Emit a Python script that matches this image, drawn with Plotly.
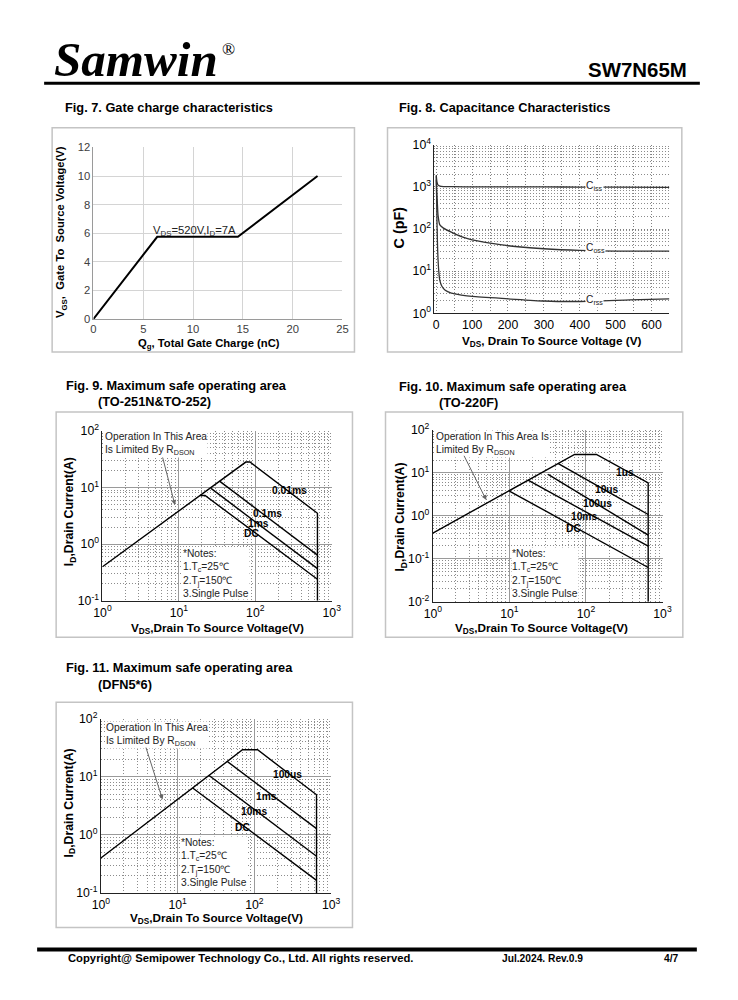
import plotly.graph_objects as go

# Figure size and the measured page placement of the rendered figure
W, H = 722, 984
AX, SX = 17.9, 0.974
AY, SY = 17.3, 0.983
FS = 1 / 0.978  # font compensation for the rendering scale
def px(x): return (x - AX) / SX / W
def py(y): return 1 - (y - AY) / SY / H
def f(s): return round(s * FS, 2)

FONT = "Liberation Sans"
DOT = "1px,2px"

# ---------------- DATA ----------------
# Fig 7 gate charge
qg_nc = [0, 6.4, 14.5, 22.5]
vgs_v = [0, 5.75, 5.75, 10]

# Fig 8 capacitance
ciss_v = [0, 2, 5, 10, 20, 50, 100, 200, 300, 400, 500, 650]
ciss_pf = [1900, 1300, 1100, 1050, 1020, 1010, 1000, 1000, 1000, 990, 990, 980]
coss_v = [0, 1, 3, 5, 10, 20, 42, 70, 100, 150, 200, 300, 400, 500, 650]
coss_pf = [1800, 900, 420, 210, 125, 105, 84, 66, 55, 46, 40, 34, 31, 30, 30]
crss_v = [0, 1, 2, 4, 7, 10, 15, 25, 42, 70, 100, 200, 300, 400, 540, 650]
crss_pf = [1500, 600, 150, 30, 10, 6, 4.5, 3.5, 3.0, 2.7, 2.5, 2.2, 1.95, 1.9, 2.07, 2.2]

# Fig 9 SOA (TO-251N & TO-252)
f9_names = ["0.01ms", "0.1ms", "1ms", "DC"]
f9_v = [[1, 75, 85, 650, 650], [34, 650], [26.3, 650], [19, 22, 650]]
f9_i = [[0.4, 28, 28, 3.5, 0.1], [12.9, 0.64], [9.6, 0.37], [7.2, 7.2, 0.24]]

# Fig 10 SOA (TO-220F)
f10_names = ["1us", "10us", "100us", "10ms", "DC"]
f10_v = [[1, 71, 137, 650, 650], [43, 650], [32, 650], [17.5, 650], [10, 650]]
f10_i = [[0.4, 27, 27, 5.9, 0.01], [16.7, 1.08], [9.3, 0.357], [6.8, 0.198], [3.8, 0.063]]

# Fig 11 SOA (DFN5*6)
f11_names = ["100us", "1ms", "10ms", "DC"]
f11_v = [[1, 70, 110, 645, 645], [44, 645], [25.4, 645], [15.7, 645]]
f11_i = [[0.4, 29, 29, 4.9, 0.1], [18.4, 1.28], [10.6, 0.43], [6.4, 0.165]]

notes = ["*Notes:", "1.T<sub>c</sub>=25\u2103", "2.T<sub>j</sub>=150\u2103", "3.Single Pulse"]

fig = go.Figure()

# ---------------- TRACES ----------------
fig.add_trace(go.Scatter(x=qg_nc, y=vgs_v, mode="lines", line=dict(color="black", width=2),
                         xaxis="x", yaxis="y", showlegend=False))
for xs, ys in [(ciss_v, ciss_pf), (coss_v, coss_pf), (crss_v, crss_pf)]:
    fig.add_trace(go.Scatter(x=xs, y=ys, mode="lines",
                             line=dict(color="#333333", width=1.3, shape="spline", smoothing=0.6),
                             xaxis="x2", yaxis="y2", showlegend=False))
for xs, ys in zip(f9_v, f9_i):
    fig.add_trace(go.Scatter(x=xs, y=ys, mode="lines", line=dict(color="black", width=1.4),
                             xaxis="x3", yaxis="y3", showlegend=False))
for xs, ys in zip(f10_v, f10_i):
    fig.add_trace(go.Scatter(x=xs, y=ys, mode="lines", line=dict(color="black", width=1.4),
                             xaxis="x4", yaxis="y4", showlegend=False))
for xs, ys in zip(f11_v, f11_i):
    fig.add_trace(go.Scatter(x=xs, y=ys, mode="lines", line=dict(color="black", width=1.4),
                             xaxis="x5", yaxis="y5", showlegend=False))

# ---------------- AXES ----------------
def minor_log(lo, hi):
    return [m * 10 ** k for k in range(lo, hi) for m in range(2, 10)]

def dec_text(lo, hi):
    return [10 ** k for k in range(lo, hi + 1)], ["10<sup>%d</sup>" % k for k in range(lo, hi + 1)]

tickfont = dict(family=FONT, size=f(12), color="black")

def log_axis(dom, lo, hi, anchor):
    tv, tt = dec_text(lo, hi)
    return dict(domain=dom, type="log", range=[lo, hi], tickvals=tv, ticktext=tt, anchor=anchor,
                showgrid=True, gridcolor="#9a9a9a", gridwidth=1,
                minor=dict(tickvals=minor_log(lo, hi), showgrid=True, gridcolor="#8c8c8c",
                           griddash=DOT, gridwidth=1, ticks=""),
                showline=True, linecolor="#222", linewidth=1, ticks="", tickfont=tickfont, zeroline=False)

layout = dict(
    width=W, height=H, margin=dict(l=0, r=0, t=0, b=0),
    paper_bgcolor="white", plot_bgcolor="white", showlegend=False,
    xaxis=dict(domain=[px(94.3), px(343)], range=[0, 25], dtick=5, anchor="y",
               showgrid=True, gridcolor="#d4d4d4", showline=True, linecolor="#9a9a9a", zeroline=False,
               ticks="", tickfont=dict(family=FONT, size=f(11), color="#404040")),
    yaxis=dict(domain=[py(319), py(147.7)], range=[0, 12], dtick=2, anchor="x",
               showgrid=True, gridcolor="#d4d4d4", showline=True, linecolor="#9a9a9a", zeroline=False,
               ticks="", tickfont=dict(family=FONT, size=f(11), color="#404040")),
    xaxis2=dict(domain=[px(434.9), px(669.6)], range=[-5, 650], tickvals=[0, 100, 200, 300, 400, 500, 600],
                anchor="y2", showgrid=True, gridcolor="#808080", griddash=DOT,
                minor=dict(tickvals=[50, 150, 250, 350, 450, 550, 650], showgrid=True, gridcolor="#808080",
                           griddash=DOT, ticks=""),
                showline=True, linecolor="#222", zeroline=False, ticks="", tickfont=tickfont),
    yaxis2=dict(domain=[py(313.3), py(145)], type="log", range=[0, 4], anchor="x2",
                tickvals=dec_text(0, 4)[0], ticktext=dec_text(0, 4)[1],
                showgrid=True, gridcolor="#808080", griddash=DOT,
                minor=dict(tickvals=minor_log(0, 4), showgrid=True, gridcolor="#8c8c8c", griddash=DOT, ticks=""),
                showline=True, linecolor="#222", zeroline=False, ticks="", tickfont=tickfont),
    xaxis3=log_axis([px(103.3), px(332.3)], 0, 3, "y3"),
    yaxis3=log_axis([py(600.7), py(430.7)], -1, 2, "x3"),
    xaxis4=log_axis([px(433.3), px(662.7)], 0, 3, "y4"),
    yaxis4=log_axis([py(601.7), py(430)], -2, 2, "x4"),
    xaxis5=log_axis([px(101.7), px(331.7)], 0, 3, "y5"),
    yaxis5=log_axis([py(892.7), py(718.3)], -1, 2, "x5"),
)

# ---------------- SHAPES ----------------
shapes = []
def box(x0, y0, x1, y1):
    shapes.append(dict(type="rect", xref="paper", yref="paper", x0=px(x0), x1=px(x1), y0=py(y1), y1=py(y0),
                       line=dict(color="#c4c4c4", width=1.5), layer="below"))
box(53, 128, 355, 352)
box(388, 128, 682, 352)
box(57, 412, 353, 637)
box(386, 412, 683, 637)
box(57, 702, 353, 927)
shapes.append(dict(type="line", xref="paper", yref="paper", x0=px(45), x1=px(700), y0=py(83.5), y1=py(83.5),
                   line=dict(color="black", width=3)))
shapes.append(dict(type="line", xref="paper", yref="paper", x0=px(38), x1=px(697), y0=py(949), y1=py(949),
                   line=dict(color="black", width=4)))
layout["shapes"] = shapes

# ---------------- ANNOTATIONS ----------------
ann = []
def text(x, y, t, size=12, bold=False, xanchor="left", color="black", angle=0, family=FONT, bg=None,
         align="left"):
    d = dict(xref="paper", yref="paper", x=px(x), y=py(y), text=("<b>%s</b>" % t) if bold else t,
             showarrow=False, xanchor=xanchor, yanchor="middle", textangle=angle, align=align,
             font=dict(family=family, size=f(size), color=color))
    if bg:
        d["bgcolor"] = bg
        d["borderpad"] = 0
    ann.append(d)

# header / footer
text(53, 60, "<b><i>Samwin</i></b>", size=48, family="Liberation Serif")
text(221, 50, "\u00ae", size=17, family="Liberation Serif")
text(689, 70, "SW7N65M", size=20, bold=True, xanchor="right")
text(67, 958, "Copyright@ Semipower Technology Co., Ltd. All rights reserved.", size=11, bold=True)
text(500, 958, "Jul.2024. Rev.0.9", size=10, bold=True)
text(662, 958, "4/7", size=10, bold=True)

# figure titles
text(64, 108, "Fig. 7. Gate charge characteristics", size=12.5, bold=True)
text(397, 108, "Fig. 8. Capacitance Characteristics", size=12.5, bold=True)
text(65, 386, "Fig. 9. Maximum safe operating area", size=12.5, bold=True)
text(97, 402, "(TO-251N&amp;TO-252)", size=12.5, bold=True)
text(397, 387, "Fig. 10. Maximum safe operating area", size=12.5, bold=True)
text(437, 403, "(TO-220F)", size=12.5, bold=True)
text(65, 667, "Fig. 11. Maximum safe operating area", size=12.5, bold=True)
text(97, 684, "(DFN5*6)", size=12.5, bold=True)

# Fig 7 labels
text(62, 232, "V<sub>GS</sub>,  Gate To  Source Voltage(V)", size=11, bold=True, xanchor="center", angle=-90)
text(210, 344, "Q<sub>g</sub>, Total Gate Charge (nC)", size=11, bold=True, xanchor="center")
text(152, 231, "V<sub>DS</sub>=520V,I<sub>D</sub>=7A", size=11, color="#222")

# Fig 8 labels
text(399, 228, "C (pF)", size=14, bold=True, xanchor="center", angle=-90)
text(552, 342, "V<sub>DS</sub>, Drain To Source Voltage (V)", size=11.5, bold=True, xanchor="center")
text(585, 187, "C<sub>iss</sub>", size=10, color="#222", bg="white")
text(585, 249, "C<sub>oss</sub>", size=10, color="#222", bg="white")
text(585, 301, "C<sub>rss</sub>", size=10, color="#222", bg="white")

def soa_texts(xl, yc, l1, l2, nx, ny):
    text(xl, yc, l1 + "<br>" + l2, size=10, color="#222", bg="white")
    text(nx, ny, "<br>".join(notes), size=10, color="#222", bg="white")

# Fig 9
text(71, 512, "I<sub>D</sub>,Drain Current(A)", size=12, bold=True, xanchor="center", angle=-90)
text(218, 628, "V<sub>DS</sub>,Drain To Source Voltage(V)", size=11.5, bold=True, xanchor="center")
soa_texts(105, 444, "Operation In This Area", "Is Limited By R<sub>DSON</sub>", 183, 573)
for (lx, ly), t in zip([(290, 490), (268, 513), (259, 523), (252, 533)], f9_names):
    text(lx, ly, t, size=10, bold=True, xanchor="center")

# Fig 10
text(402, 517, "I<sub>D</sub>,Drain Current(A)", size=12, bold=True, xanchor="center", angle=-90)
text(542, 628, "V<sub>DS</sub>,Drain To Source Voltage(V)", size=11.5, bold=True, xanchor="center")
soa_texts(435, 443.5, "Operation In This Area Is", "Limited By R<sub>DSON</sub>", 511, 573)
for (lx, ly), t in zip([(625, 472), (607, 489), (598, 503), (584, 516), (574, 528)], f10_names):
    text(lx, ly, t, size=10, bold=True, xanchor="center")

# Fig 11
text(71, 803, "I<sub>D</sub>,Drain Current(A)", size=12, bold=True, xanchor="center", angle=-90)
text(217, 918, "V<sub>DS</sub>,Drain To Source Voltage(V)", size=11.5, bold=True, xanchor="center")
soa_texts(106, 734.5, "Operation In This Area", "Is Limited By R<sub>DSON</sub>", 181, 862)
for (lx, ly), t in zip([(288, 774), (267, 796), (255, 811), (243, 827)], f11_names):
    text(lx, ly, t, size=10, bold=True, xanchor="center")

# arrows
for (hx, hy, axo, ayo) in [(175.7, 505, -12.4, -48.3), (486.7, 500, -22.4, -45), (163.3, 799.3, -16.6, -52.6)]:
    ann.append(dict(xref="paper", yref="paper", x=px(hx), y=py(hy), ax=axo / SX, ay=ayo / SY, text="",
                    showarrow=True, arrowhead=2, arrowsize=1, arrowwidth=1, arrowcolor="#666"))

layout["annotations"] = ann
fig.update_layout(**layout)
fig.write_html("out.html")
